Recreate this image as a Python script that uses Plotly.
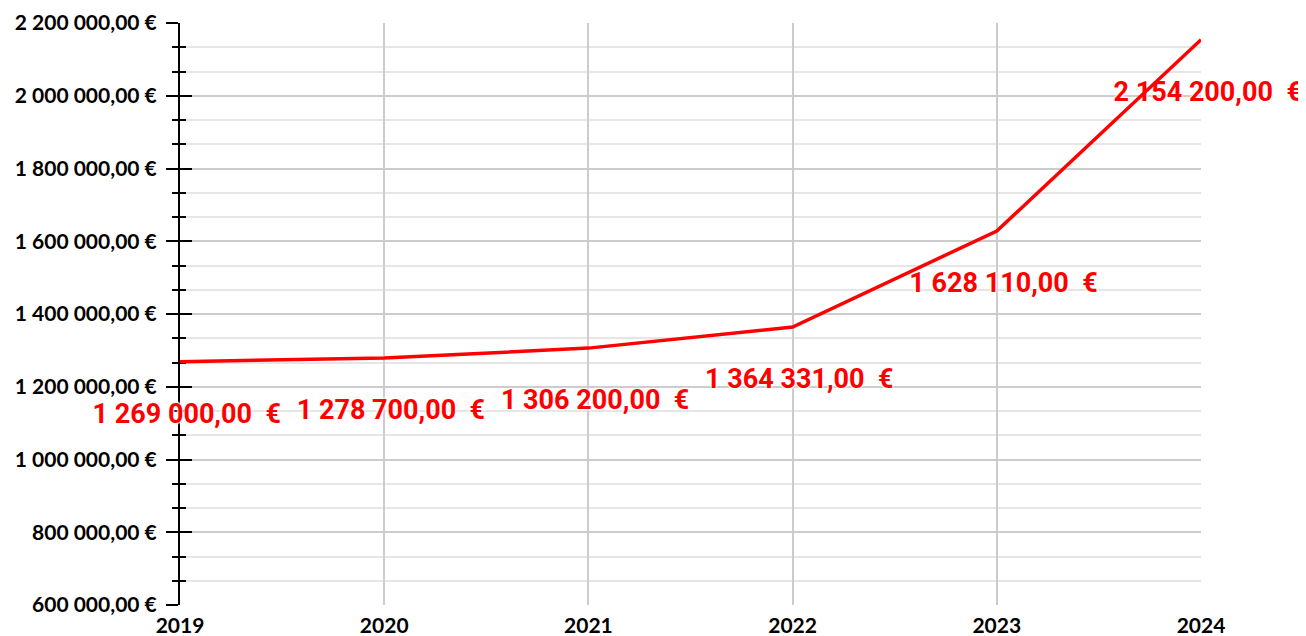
import plotly.graph_objects as go

years = [2019, 2020, 2021, 2022, 2023, 2024]
values = [1269000.00, 1278700.00, 1306200.00, 1364331.00, 1628110.00, 2154200.00]

y_tick_values = [600000, 800000, 1000000, 1200000, 1400000, 1600000, 1800000, 2000000, 2200000]
y_tick_labels = ["600 000,00 €", "800 000,00 €", "1 000 000,00 €", "1 200 000,00 €",
                 "1 400 000,00 €", "1 600 000,00 €", "1 800 000,00 €", "2 000 000,00 €",
                 "2 200 000,00 €"]
x_tick_labels = ["2019", "2020", "2021", "2022", "2023", "2024"]


def fmt(v):
    whole = f"{int(round(v)):,}".replace(",", "\u00a0")
    cents = f"{v:.2f}".split(".")[1]
    return f"{whole},{cents}\u00a0\u00a0€"


label_texts = [fmt(v) for v in values]
LABEL_OFFSET = 150000  # vertical offset of value labels (data units ~ 54px)
PAD = "\u00a0\u00a0"   # leading padding nudges the centred labels a few px right

RED = "#ff0000"
AXIS_FONT = dict(family="Lato", size=21, color="#000000", weight="bold")

fig = go.Figure()

# value labels (drawn below the line)
fig.add_trace(go.Scatter(
    x=years,
    y=[v - LABEL_OFFSET for v in values],
    mode="text",
    text=[PAD + t for t in label_texts],
    textposition="middle center",
    textfont=dict(family="Roboto", size=27, color=RED, weight="bold",
                  shadow="0 0 2px white, 0 0 2px white, 0 0 3px white, 0 0 3px white"),
    cliponaxis=False,
    hoverinfo="skip",
    showlegend=False,
))

fig.add_trace(go.Scatter(
    x=years, y=values, mode="lines",
    line=dict(color=RED, width=3.5),
    showlegend=False,
    cliponaxis=False,
))

# helper trace for overlay axis (inside ticks)
fig.add_trace(go.Scatter(
    x=years, y=values, mode="lines", yaxis="y2",
    line=dict(color="rgba(0,0,0,0)", width=0),
    hoverinfo="skip", showlegend=False,
))

fig.update_layout(
    width=1298, height=628,
    margin=dict(l=172, r=105, t=15, b=31, autoexpand=False),
    paper_bgcolor="white", plot_bgcolor="white",
    showlegend=False,
    xaxis=dict(
        range=[2019, 2024],
        tickvals=years, ticktext=x_tick_labels,
        showgrid=True, gridcolor="#cccccc", gridwidth=2,
        zeroline=False, showline=False,
        ticks="", tickfont=AXIS_FONT,
        ticklabelstandoff=6,
        automargin=False,
    ),
    yaxis=dict(
        range=[600000, 2200000],
        tickvals=y_tick_values, ticktext=y_tick_labels,
        showgrid=True, gridcolor="#cccccc", gridwidth=2,
        zeroline=False,
        showline=True, linecolor="#000000", linewidth=2,
        ticks="outside", ticklen=12, tickwidth=2, tickcolor="#000000",
        tickfont=AXIS_FONT,
        ticklabelstandoff=5,
        layer="below traces",
        automargin=False,
        minor=dict(dtick=200000 / 3, tick0=600000, showgrid=True, gridcolor="#e6e6e6",
                   gridwidth=2, ticks="outside", ticklen=6, tickwidth=2, tickcolor="#000000"),
    ),
    yaxis2=dict(
        range=[600000, 2200000], overlaying="y", side="left",
        tickvals=y_tick_values, showticklabels=False,
        showgrid=False, zeroline=False, showline=False,
        ticks="inside", ticklen=12, tickwidth=2, tickcolor="#000000",
        layer="below traces",
        automargin=False,
        minor=dict(dtick=200000 / 3, tick0=600000, showgrid=False,
                   ticks="inside", ticklen=6, tickwidth=2, tickcolor="#000000"),
    ),
)

fig.write_html("out.html")
